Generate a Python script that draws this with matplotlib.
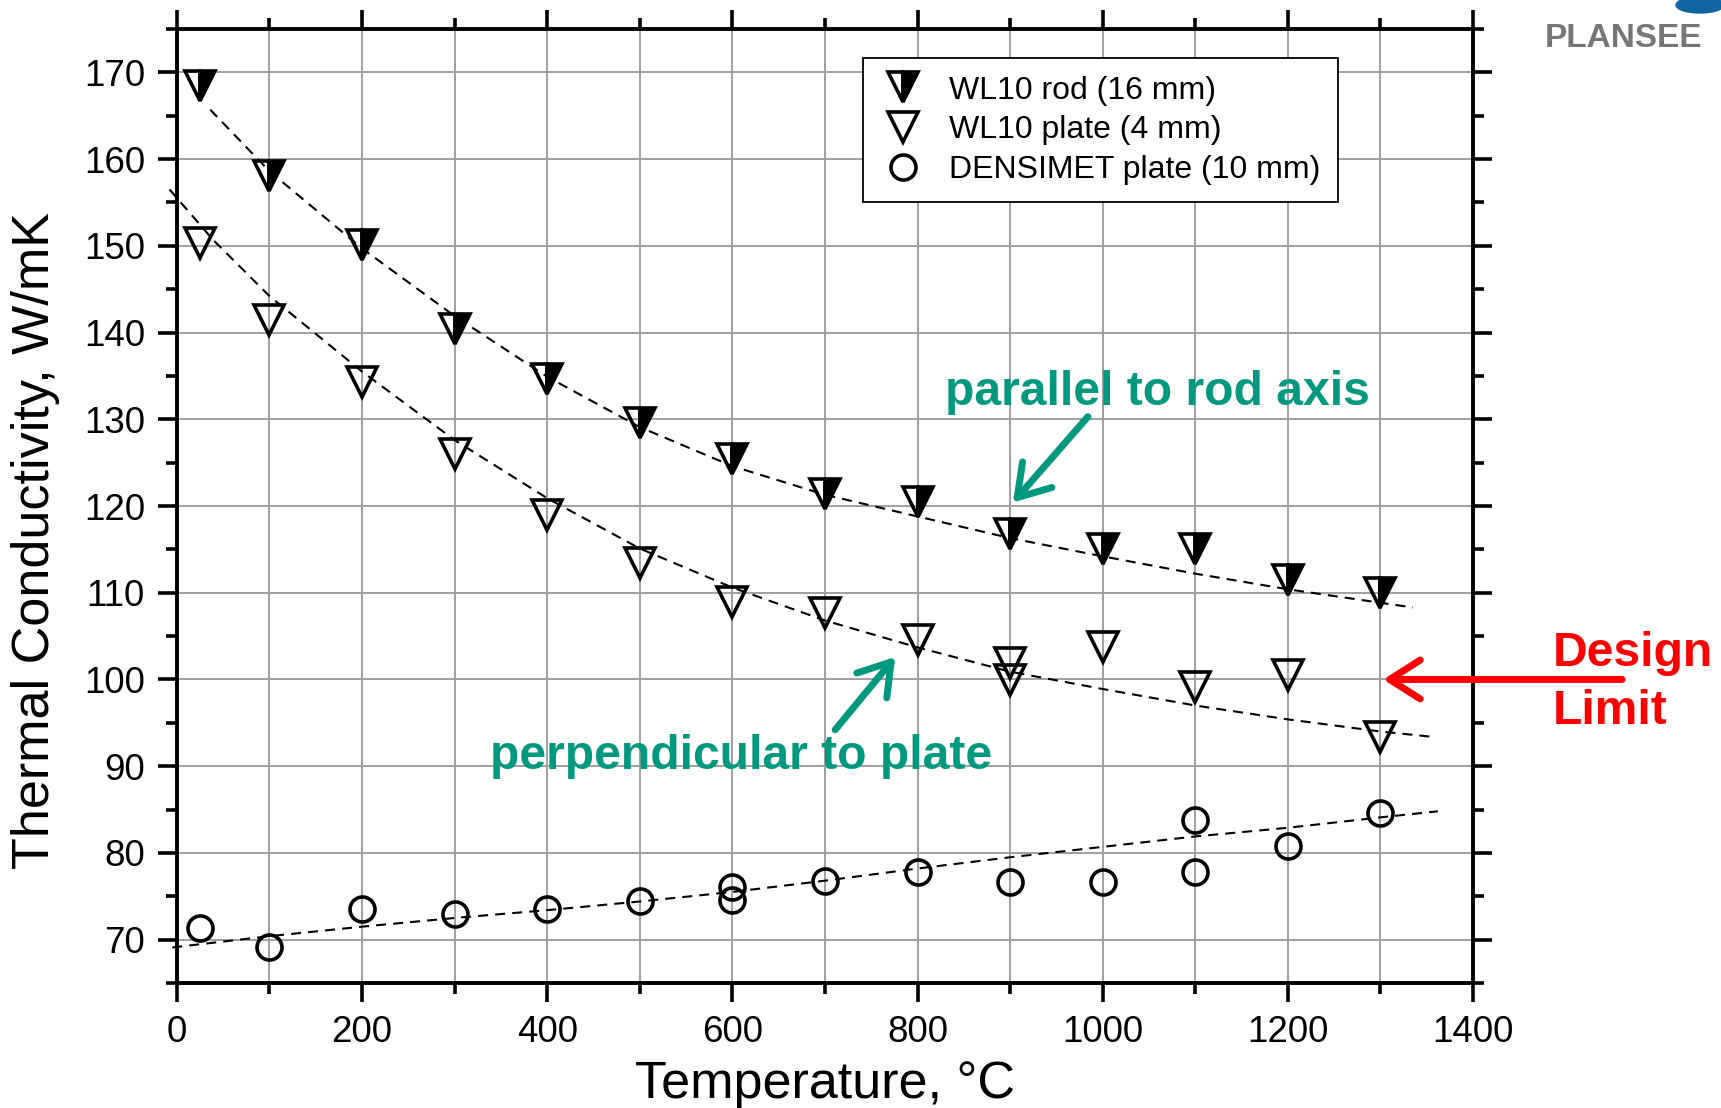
import numpy as np
import matplotlib
matplotlib.use('Agg')
import matplotlib.pyplot as plt
from matplotlib.ticker import MultipleLocator
from matplotlib.patches import Ellipse

plt.rcParams['font.family'] = ['Liberation Sans', 'DejaVu Sans']

# WL10 rod (16 mm), parallel to rod axis
rod_temp = [25, 100, 200, 300, 400, 500, 600, 700, 800, 900, 1000, 1100, 1200, 1300]
rod_k = [168.4, 158.1, 150.1, 140.4, 134.6, 129.6, 125.4, 121.4, 120.5, 116.8, 115.1, 115.1, 111.5, 110.0]

# WL10 plate (4 mm), perpendicular to plate
plate_temp = [25, 100, 200, 300, 400, 500, 600, 700, 800, 900, 900, 1000, 1100, 1200, 1300]
plate_k = [150.3, 141.5, 134.3, 126.0, 119.0, 113.4, 108.9, 107.7, 104.6, 101.9, 99.9, 103.8, 99.1, 100.5, 93.4]

# DENSIMET plate (10 mm)
dens_temp = [25, 100, 200, 300, 400, 500, 600, 600, 700, 800, 900, 1000, 1100, 1100, 1200, 1300]
dens_k = [71.3, 69.2, 73.5, 73.0, 73.5, 74.4, 76.1, 74.6, 76.8, 77.8, 76.7, 76.6, 83.8, 77.8, 80.8, 84.6]

# dashed trend lines
rod_fit_t = [36, 100, 200, 300, 400, 500, 600, 700, 800, 900, 1000, 1100, 1200, 1335]
rod_fit_k = [165.7, 158.6, 149.7, 141.9, 134.9, 129.1, 124.6, 121.3, 118.8, 116.3, 114.2, 112.2, 110.4, 108.3]
plate_fit_t = [-8, 39, 100, 200, 300, 400, 500, 600, 700, 800, 900, 1000, 1100, 1200, 1300, 1355]
plate_fit_k = [156.5, 150.7, 144.2, 135.5, 127.6, 120.9, 115.1, 110.6, 106.8, 103.7, 100.9, 98.9, 97.0, 95.4, 94.0, 93.4]
dens_fit_t = [-5, 100, 200, 300, 400, 500, 600, 700, 800, 900, 1000, 1100, 1200, 1300, 1362]
dens_fit_k = [69.1, 70.4, 71.5, 72.5, 73.4, 74.4, 75.5, 76.8, 78.2, 79.5, 80.7, 81.9, 82.9, 84.1, 84.8]

labels = ['WL10 rod (16 mm)', 'WL10 plate (4 mm)', 'DENSIMET plate (10 mm)']

TEAL = '#009980'
RED = '#ff0000'

fig = plt.figure(figsize=(17.21, 11.08), dpi=100)
ax = fig.add_axes([0.1028, 0.1128, 0.7531, 0.8610])

ms_tri, ms_circ, mew = 22, 18, 2.6
dash = dict(color='black', lw=1.5, dashes=(4.8, 3.4), clip_on=False)

ax.plot(rod_fit_t, rod_fit_k, **dash)
ax.plot(plate_fit_t, plate_fit_k, **dash)
ax.plot(dens_fit_t, dens_fit_k, **dash)

h1, = ax.plot(rod_temp, rod_k, 'v', ms=ms_tri, mew=mew, mec='black', mfc='black',
              fillstyle='right', markerfacecoloralt='none', label=labels[0])
h2, = ax.plot(plate_temp, plate_k, 'v', ms=ms_tri, mew=mew, mec='black', mfc='none',
              label=labels[1])
h3, = ax.plot(dens_temp, dens_k, 'o', ms=ms_circ, mew=mew, mec='black', mfc='none',
              label=labels[2])

ax.set_xlim(0, 1400)
ax.set_ylim(65, 175)
ax.xaxis.set_major_locator(MultipleLocator(200))
ax.xaxis.set_minor_locator(MultipleLocator(100))
ax.yaxis.set_major_locator(MultipleLocator(10))
ax.yaxis.set_minor_locator(MultipleLocator(5))
ax.grid(which='both', axis='x', color='#a0a0a0', lw=1.4)
ax.grid(which='major', axis='y', color='#a0a0a0', lw=1.4)
ax.set_axisbelow(True)
ax.tick_params(which='both', direction='out', top=True, right=True, width=2.6)
ax.tick_params(which='major', length=14, labelsize=26.5, pad=9)
ax.tick_params(which='minor', length=8)
for s in ax.spines.values():
    s.set_linewidth(2.8)

ax.set_xlabel('Temperature, °C', fontsize=37.5, labelpad=7)
ax.set_ylabel('Thermal Conductivity, W/mK', fontsize=37.5)
ax.yaxis.set_label_coords(-0.090, 0.464)

leg = ax.legend(handles=[h1, h2, h3], loc='upper left', bbox_to_anchor=(0.529, 0.9696),
                borderaxespad=0, fontsize=23, frameon=True, fancybox=False,
                edgecolor='black', framealpha=1, labelspacing=0.3, borderpad=0.55,
                handlelength=1.44, handletextpad=0.72, numpoints=1)
leg.get_frame().set_linewidth(1.3)

# annotations
arrow = dict(arrowstyle='->,head_length=0.55,head_width=0.35', lw=5,
             mutation_scale=40, shrinkA=0, shrinkB=0)
ax.text(830, 131.7, 'parallel to rod axis', color=TEAL, fontsize=34.6, fontweight='bold',
        ha='left', va='baseline')
ax.annotate('', xy=(903, 120.4), xytext=(984, 130.3), arrowprops=dict(color=TEAL, **arrow))
ax.text(338, 89.7, 'perpendicular to plate', color=TEAL, fontsize=34.6, fontweight='bold',
        ha='left', va='baseline')
ax.annotate('', xy=(776, 102.6), xytext=(711, 94.2), arrowprops=dict(color=TEAL, **arrow))
ax.annotate('', xy=(1303, 100), xytext=(1561, 100), annotation_clip=False,
            arrowprops=dict(color=RED, **arrow))
ax.text(1486, 101.5, 'Design', color=RED, fontsize=34.6, fontweight='bold',
        ha='left', va='baseline', clip_on=False)
ax.text(1486, 94.9, 'Limit', color=RED, fontsize=34.6, fontweight='bold',
        ha='left', va='baseline', clip_on=False)

# company logo
fig.text(1545 / 1721, 1 - 47 / 1108, 'PLANSEE', color='#777777', fontsize=24,
         fontweight='bold', ha='left', va='baseline')
fig.patches.append(Ellipse((1700 / 1721, 1 - 5 / 1108), 48 / 1721, 16 / 1108,
                           transform=fig.transFigure, color='#0e65a0'))

fig.savefig('out.png', dpi=100)
